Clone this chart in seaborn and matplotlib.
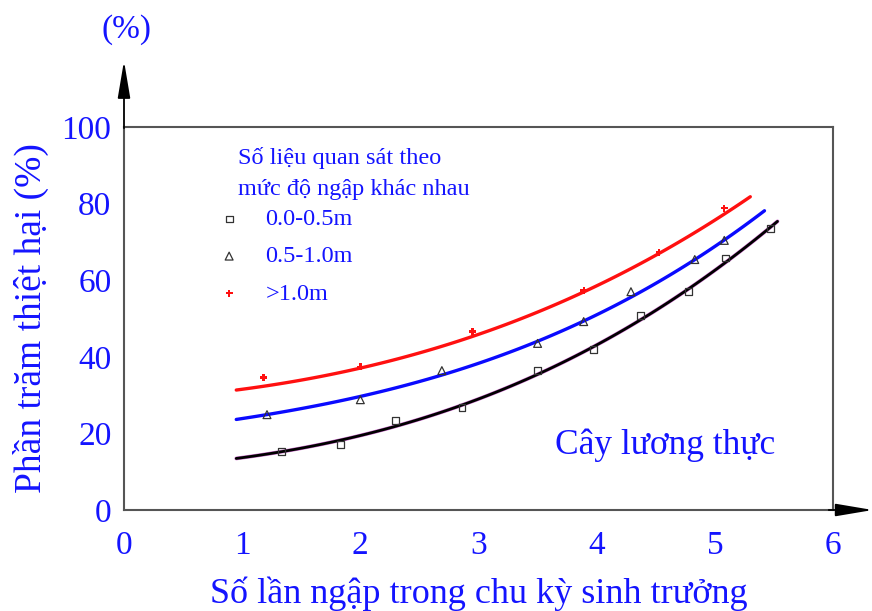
import matplotlib
matplotlib.use("Agg")
import matplotlib.pyplot as plt
import seaborn as sns

obs_low_x = [1.33, 1.83, 2.30, 2.86, 3.50, 3.97, 4.37, 4.78, 5.09, 5.47]
obs_low_y = [15.2, 17.0, 23.4, 26.7, 36.4, 41.9, 50.8, 57.0, 65.8, 73.5]
obs_mid_x = [1.21, 2.00, 2.69, 3.50, 3.89, 4.29, 4.83, 5.08]
obs_mid_y = [24.9, 28.8, 36.4, 43.5, 49.2, 57.0, 65.4, 70.4]
obs_high_x = [1.18, 2.00, 2.95, 3.89, 4.53, 5.08]
obs_high_y = [34.6, 37.4, 46.6, 57.3, 67.3, 78.8]

# fitted curves
red_x = [0.95, 1.5, 2.0, 2.5, 3.0, 3.5, 4.0, 4.5, 5.0, 5.30]
red_y = [31.7, 33.5, 36.5, 41.2, 46.3, 52.2, 58.5, 66.0, 75.0, 82.5]
blue_x = [0.95, 1.5, 2.0, 2.5, 3.0, 3.5, 4.0, 4.5, 5.0, 5.42]
blue_y = [23.8, 26.3, 29.5, 33.5, 38.5, 44.3, 51.0, 59.0, 68.5, 78.4]
black_x = [0.95, 1.5, 2.0, 2.5, 3.0, 3.5, 4.0, 4.5, 5.0, 5.53]
black_y = [13.5, 16.0, 19.5, 23.8, 29.0, 35.5, 42.8, 52.0, 63.0, 75.2]

legend_title = "Số liệu quan sát theo\nmức độ ngập khác nhau"
legend_labels = ["0.0-0.5m", "0.5-1.0m", ">1.0m"]
x_ticks = [0, 1, 2, 3, 4, 5, 6]
y_ticks = [0, 20, 40, 60, 80, 100]

BLUE_TXT = "#1414ff"

sns.set_theme(style="white")
plt.rcParams["font.family"] = ["Liberation Serif", "DejaVu Serif"]

fig = plt.figure(figsize=(8.72, 6.11), dpi=100)
ax = fig.add_axes([0.1422, 0.1653, 0.8131, 0.6268])

# smooth curves through the read-off points
smooth = dict(order=3, ci=None, scatter=False, truncate=True, ax=ax)
sns.regplot(x=red_x, y=red_y, line_kws=dict(color="#ff1010", lw=2.4), **smooth)
sns.regplot(x=blue_x, y=blue_y, line_kws=dict(color="#0a0aff", lw=2.4), **smooth)
sns.regplot(x=black_x, y=black_y, line_kws=dict(color="#d070d0", lw=2.7), **smooth)
sns.regplot(x=black_x, y=black_y, line_kws=dict(color="black", lw=2.0), **smooth)

sns.scatterplot(x=obs_low_x, y=obs_low_y, marker="s", s=24, facecolors="none",
                edgecolor="#333333", linewidth=0.9, label=legend_labels[0], ax=ax, zorder=5)
sns.scatterplot(x=obs_mid_x, y=obs_mid_y, marker="^", s=32, facecolors="none",
                edgecolor="#333333", linewidth=0.9, label=legend_labels[1], ax=ax, zorder=5)
sns.scatterplot(x=obs_high_x, y=obs_high_y, marker="P", s=26, color="#ff1010",
                edgecolor="none", label=legend_labels[2], ax=ax, zorder=5)

ax.set_xlim(0, 6)
ax.set_ylim(0, 100)
ax.set_xticks(x_ticks)
ax.set_yticks(y_ticks)
ax.tick_params(axis="x", direction="in", length=10, width=1, color="#444444",
               labelsize=24, labelcolor=BLUE_TXT, pad=15)
ax.tick_params(axis="y", direction="inout", length=10, width=1, color="#444444",
               labelsize=24, labelcolor=BLUE_TXT, pad=4)
for sp in ax.spines.values():
    sp.set_color("#555555")
    sp.set_linewidth(1.5)

ax.set_xlabel("Số lần ngập trong chu kỳ sinh trưởng", fontsize=26, color=BLUE_TXT, labelpad=11)
ax.set_ylabel("Phần trăm thiệt hại (%)", fontsize=27, color=BLUE_TXT, labelpad=9)

# axis arrows
ax.annotate("", xy=(0, 1.18), xytext=(0, 0.99), xycoords="axes fraction",
            arrowprops=dict(arrowstyle="-|>,head_length=1.9,head_width=0.32",
                            color="black", lw=1.3), annotation_clip=False)
ax.annotate("", xy=(1.06, 0), xytext=(0.99, 0), xycoords="axes fraction",
            arrowprops=dict(arrowstyle="-|>,head_length=1.9,head_width=0.32",
                            color="black", lw=1.3), annotation_clip=False)
fig.text(0.145, 0.951, "(%)", fontsize=24, color=BLUE_TXT, ha="center", va="center")

ax.text(0.918, 0.17, "Cây lương thực", transform=ax.transAxes, fontsize=25.5,
        color=BLUE_TXT, ha="right", va="center")

ax.text(0.161, 0.947, legend_title, transform=ax.transAxes, fontsize=17.5,
        color=BLUE_TXT, ha="left", va="top", linespacing=1.6)

leg = ax.legend(loc="upper left", bbox_to_anchor=(0.114, 0.832), frameon=False,
                fontsize=17.5, handlelength=0.6, handletextpad=1.2,
                labelspacing=0.62, borderpad=0.2)
for t in leg.get_texts():
    t.set_color(BLUE_TXT)

fig.savefig("out.png", dpi=100)
